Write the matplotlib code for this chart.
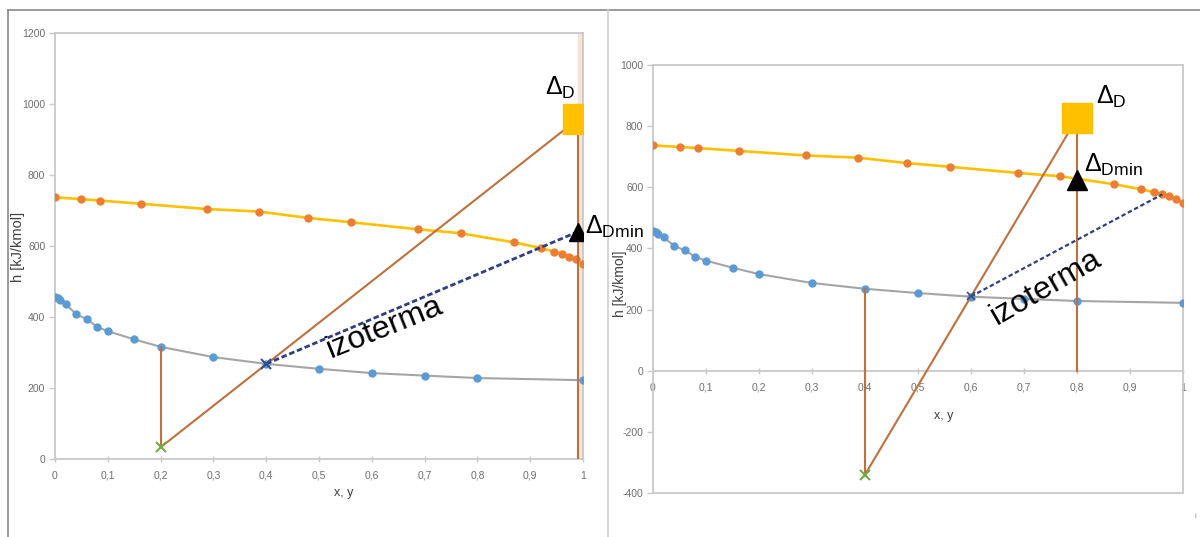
import matplotlib
matplotlib.use("Agg")
import matplotlib.pyplot as plt
from matplotlib.lines import Line2D

plt.rcParams['font.family'] = ['Liberation Sans', 'DejaVu Sans']
plt.rcParams['mathtext.fontset'] = 'custom'
plt.rcParams['mathtext.rm'] = 'Liberation Sans'
plt.rcParams['mathtext.it'] = 'Liberation Sans'
plt.rcParams['mathtext.bf'] = 'Liberation Sans:bold'

# Saturated vapour enthalpy (y, h)
vap_y = [0, 0.05, 0.085, 0.163, 0.288, 0.386, 0.48, 0.56, 0.688, 0.768,
         0.87, 0.92, 0.946, 0.961, 0.974, 0.986, 1.0]
vap_h = [737, 732, 728, 719, 704, 697, 679, 667, 647, 636,
         610, 594, 584, 577, 570, 562, 549]

# Saturated liquid enthalpy (x, h)
liq_x = [0, 0.005, 0.01, 0.02, 0.04, 0.06, 0.08, 0.1, 0.15, 0.2,
         0.3, 0.4, 0.5, 0.6, 0.7, 0.8, 1.0]
liq_h = [457, 453, 448, 437, 408, 394, 372, 360, 337, 316,
         287, 268, 254, 242, 235, 228, 222]

x_ticks = [0, 0.1, 0.2, 0.3, 0.4, 0.5, 0.6, 0.7, 0.8, 0.9, 1.0]
x_tick_labels = ['0', '0,1', '0,2', '0,3', '0,4', '0,5', '0,6', '0,7', '0,8', '0,9', '1']

# Left case: feed point, isotherm foot, delta points
L_feed = (0.2, 33)
L_iso_start = (0.4, 268)
L_delta_D = (0.99, 957)
L_delta_Dmin = (0.99, 640)
L_yticks = [0, 200, 400, 600, 800, 1000, 1200]

# Right case
R_feed = (0.4, -340)
R_iso_start = (0.6, 243)
R_iso_end = (0.961, 577)
R_delta_D = (0.8, 826)
R_delta_Dmin = (0.8, 625)
R_yticks = [-400, -200, 0, 200, 400, 600, 800, 1000]

W, H = 1200, 537
fig = plt.figure(figsize=(12, 5.37), dpi=100)

def fx(px):
    return px / W

def fy(py):
    return 1 - py / H

AX_GRAY = '#c9c9c9'
TICK_GRAY = '#6e6e6e'
ORANGE = '#ED7D31'
YELLOW = '#FFC000'
BLUE = '#5B9BD5'
LGRAY = '#A5A5A5'
BROWN = '#C0703C'
NAVY = '#2F3F80'

def style_axes(ax, ylim, yticks):
    ax.set_xlim(0, 1)
    ax.set_ylim(*ylim)
    ax.set_xticks(x_ticks)
    ax.set_xticklabels(x_tick_labels)
    ax.set_yticks(yticks)
    ax.set_yticklabels([str(v) for v in yticks])
    for s in ax.spines.values():
        s.set_color(AX_GRAY)
        s.set_linewidth(1.3)
    ax.tick_params(axis='both', colors=AX_GRAY, labelcolor=TICK_GRAY,
                   labelsize=7.5, width=1.0)
    ax.tick_params(axis='y', length=4, direction='out', pad=3)
    ax.tick_params(axis='x', length=5, direction='inout', pad=6)
    ax.set_facecolor('none')

def draw_curves(ax):
    ax.plot(vap_y, vap_h, '-', color=YELLOW, lw=1.9, zorder=3)
    ax.plot(vap_y, vap_h, 'o', color=ORANGE, ms=5, zorder=4)
    ax.plot(liq_x, liq_h, '-', color=LGRAY, lw=1.5, zorder=3)
    ax.plot(liq_x, liq_h, 'o', color=BLUE, ms=5, zorder=4)

# ---------------- left panel ----------------
axL = fig.add_axes([fx(55), fy(459), fx(583 - 55), (459 - 33) / H])
style_axes(axL, (0, 1200), L_yticks)
draw_curves(axL)
axL.axvspan(L_delta_D[0], 1.0, color='#f6e3d6', zorder=1)
axL.plot([L_feed[0], L_feed[0]], [L_feed[1], liq_h[liq_x.index(0.2)]],
         color=BROWN, lw=1.5, zorder=5)
axL.plot([L_feed[0], L_delta_D[0]], [L_feed[1], L_delta_D[1]],
         color=BROWN, lw=1.5, zorder=5)
axL.plot([L_delta_D[0], L_delta_D[0]], [0, L_delta_D[1]],
         color=BROWN, lw=1.5, zorder=5)
axL.plot([L_iso_start[0], L_delta_Dmin[0]], [L_iso_start[1], L_delta_Dmin[1]],
         color=NAVY, lw=2.0, dashes=(2.0, 1.0), zorder=6)
axL.plot(*L_iso_start, 'x', color='#3A4E8C', ms=7, mew=1.5, zorder=7)
axL.plot(*L_feed, 'x', color='#70AD47', ms=7, mew=1.5, zorder=7)
axL.plot(*L_delta_D, 's', color=YELLOW, ms=21, zorder=8)
axL.plot(*L_delta_Dmin, '^', color='black', ms=13, zorder=8)
axL.text(0.625, 369, 'izoterma', rotation=22, fontsize=23,
         ha='center', va='center', rotation_mode='anchor', zorder=9)

# ---------------- right panel ----------------
axR = fig.add_axes([fx(653), fy(493), fx(1183 - 653), (493 - 65) / H])
style_axes(axR, (-400, 1000), R_yticks)
axR.spines['bottom'].set_position(('data', 0))
axR.plot([0, 1], [-400, -400], color=AX_GRAY, lw=1.3, clip_on=False, zorder=2)
draw_curves(axR)
axR.plot([R_feed[0], R_feed[0]], [R_feed[1], liq_h[liq_x.index(0.4)]],
         color=BROWN, lw=1.5, zorder=5)
axR.plot([R_feed[0], R_delta_D[0]], [R_feed[1], R_delta_D[1]],
         color=BROWN, lw=1.5, zorder=5)
axR.plot([R_delta_D[0], R_delta_D[0]], [0, R_delta_D[1]],
         color=BROWN, lw=1.5, zorder=5)
axR.plot([R_iso_start[0], R_iso_end[0]], [R_iso_start[1], R_iso_end[1]],
         color=NAVY, lw=1.6, dashes=(2.0, 1.2), zorder=6)
axR.plot(*R_iso_start, 'x', color='#3A4E8C', ms=6, mew=1.2, zorder=7)
axR.plot(*R_feed, 'x', color='#70AD47', ms=7, mew=1.5, zorder=7)
axR.plot(*R_delta_D, 's', color=YELLOW, ms=21, zorder=8)
axR.plot(*R_delta_Dmin, '^', color='black', ms=14, zorder=8)
axR.text(0.742, 273, 'izoterma', rotation=30, fontsize=23,
         ha='center', va='center', rotation_mode='anchor', zorder=9)

# axis titles
fig.text(fx(18), fy(247), 'h [kJ/kmol]', rotation=90, fontsize=10.5,
         color='#404040', ha='center', va='center')
fig.text(fx(344), fy(493), 'x, y', fontsize=9, color='#404040',
         ha='center', va='center')
fig.text(fx(620), fy(284), 'h [kJ/kmol]', rotation=90, fontsize=10,
         color='#404040', ha='center', va='center')
fig.text(fx(944), fy(416), 'x, y', fontsize=9, color='#404040',
         ha='center', va='center')

# delta point labels, drawn on top of both panels
fig.text(fx(545), fy(95), r'$\Delta_{\mathrm{D}}$', fontsize=18, zorder=20)
fig.text(fx(585), fy(234), r'$\Delta_{\mathrm{Dmin}}$', fontsize=18, zorder=20)
fig.text(fx(1096), fy(104), r'$\Delta_{\mathrm{D}}$', fontsize=18, zorder=20)
fig.text(fx(1084), fy(172), r'$\Delta_{\mathrm{Dmin}}$', fontsize=18, zorder=20)
fig.text(fx(1195), fy(517), 'i', fontsize=6, color='#999999', ha='center', va='center')

# panel frames
frame_kw = dict(transform=fig.transFigure, lw=1.2)
fig.add_artist(Line2D([fx(8), 1], [fy(10), fy(10)], color='#8a8a8a', **frame_kw))
fig.add_artist(Line2D([fx(8), fx(8)], [fy(10), 0], color='#8a8a8a', **frame_kw))
fig.add_artist(Line2D([fx(608), fx(608)], [fy(10), 0], color='#cfcfcf', **frame_kw))

fig.savefig('out.png', dpi=100, facecolor='white')
